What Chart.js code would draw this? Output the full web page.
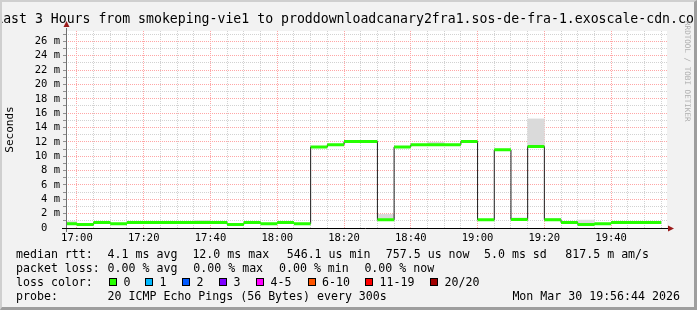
<!DOCTYPE html>
<html>
<head>
<meta charset="utf-8">
<script src="https://cdn.jsdelivr.net/npm/chart.js@4"></script>
<style>
  html, body { margin: 0; padding: 0; }
  body {
    width: 697px; height: 310px; position: relative; overflow: hidden;
    background: #f2f2f2; color: #000;
    font-family: "DejaVu Sans Mono", monospace;
  }
  #chart { position: absolute; left: 0; top: 0; }
  #frame {
    position: absolute; left: 0; top: 0; width: 697px; height: 310px; box-sizing: border-box;
    border-top: 2px solid #cfcfcf; border-left: 2px solid #cfcfcf;
    border-right: 3px solid #9e9e9e; border-bottom: 3px solid #9e9e9e;
    pointer-events: none;
  }
  #title {
    position: absolute; left: -150px; width: 997px; top: 11px;
    text-align: center; white-space: nowrap; font-size: 13.2px; line-height: 16px;
  }
  #mark {
    position: absolute; left: 692px; top: 21px; transform: rotate(90deg); transform-origin: 0 0;
    font-size: 7.6px; line-height: 10px; color: #adadad; white-space: nowrap;
  }
  .lg { position: absolute; font-size: 11.6px; line-height: 14px; white-space: pre; }
  .box { position: absolute; width: 6px; height: 6px; border: 1px solid #000; }
</style>
</head>
<body>
<canvas id="chart" width="697" height="310"></canvas>
<div id="title">Last 3 Hours from smokeping-vie1 to proddownloadcanary2fra1.sos-de-fra-1.exoscale-cdn.com</div>
<div id="mark">RRDTOOL / TOBI OETIKER</div>
<div id="legend"></div>
<div id="frame"></div>
<script>
// === smokeping: last 3 hours ===

// 5-minute bins (start time of each step)
const binTimes = [
  '16:55', '17:00', '17:05', '17:10', '17:15', '17:20', '17:25', '17:30', '17:35', '17:40',
  '17:45', '17:50', '17:55', '18:00', '18:05', '18:10', '18:15', '18:20', '18:25', '18:30',
  '18:35', '18:40', '18:45', '18:50', '18:55', '19:00', '19:05', '19:10', '19:15', '19:20',
  '19:25', '19:30', '19:35', '19:40', '19:45', '19:50',
];
// median rtt in ms
const medianMs = [
  0.6, 0.5, 0.75, 0.6, 0.75, 0.75, 0.75, 0.75, 0.75, 0.75,
  0.5, 0.75, 0.6, 0.75, 0.6, 11.3, 11.6, 12.05, 12.05, 1.15,
  11.3, 11.6, 11.6, 11.6, 12.05, 1.15, 10.9, 1.2, 11.35, 1.15,
  0.75, 0.5, 0.6, 0.75, 0.75, 0.75,
];
// smoke (ping spread) where it shows above the median line
const smokeTimes = ['16:55', '17:35', '18:30', '18:45', '19:10', '19:15', '19:20', '19:30'];
const smokeLow   = [0.55, 0.7, 1.1, 11.55, 1.15, 11.3, 1.1, 0.45];
const smokeHigh  = [0.9, 1.07, 1.9, 11.95, 1.4, 15.2, 1.35, 1.1];

const xLabels = ['17:00', '17:20', '17:40', '18:00', '18:20', '18:40', '19:00', '19:20', '19:40'];
const yLabelsMs = [0, 2, 4, 6, 8, 10, 12, 14, 16, 18, 20, 22, 24, 26];

const rangeStart = '16:56:44';
const rangeEnd = '19:56:44';
const stepMin = 5;

const lossLabels = ['0', '1', '2', '3', '4-5', '6-10', '11-19', '20/20'];
const lossColors = ['#26ff00', '#00b8ff', '#0059ff', '#7e00ff', '#ff00ff', '#ff5500', '#ff0000', '#a10000'];

function toMin(s) {
  const p = s.split(':').map(Number);
  return p[0] * 60 + p[1] + (p[2] || 0) / 60;
}
function fmt(m) {
  const h = Math.floor(m / 60), mm = Math.round(m % 60);
  return h + ':' + String(mm).padStart(2, '0');
}

const X_MIN = toMin(rangeStart);
const X_MAX = toMin(rangeEnd);
const Y_MAX = 27.45;

// thin dark step line through all medians
const stepLine = binTimes.map((t, i) => ({ x: toMin(t), y: medianMs[i] }));
stepLine.push({ x: toMin(binTimes[binTimes.length - 1]) + stepMin, y: medianMs[medianMs.length - 1] });

// thick green horizontal pieces (loss 0)
const greenLine = [];
binTimes.forEach((t, i) => {
  const a = toMin(t);
  greenLine.push({ x: a, y: medianMs[i] }, { x: a + stepMin, y: medianMs[i] }, { x: a + stepMin, y: null });
});

const smokeBars = smokeTimes.map((t, i) => ({ x: toMin(t) + stepMin / 2, y: [smokeLow[i], smokeHigh[i]] }));

const axisFont = { family: 'DejaVu Sans Mono', size: 10.5 };
const MAJOR = '#ffa6a6', MINOR = '#d2d2d2';

const frameAxes = {
  id: 'frameAxes',
  beforeDraw(chart) {
    const { ctx, chartArea: a } = chart;
    ctx.save();
    ctx.fillStyle = '#ffffff';
    ctx.fillRect(a.left, a.top, a.right - a.left, a.bottom - a.top);
    ctx.restore();
  },
  afterDraw(chart) {
    const { ctx, chartArea: a } = chart;
    ctx.save();
    // y axis
    ctx.strokeStyle = '#707070';
    ctx.lineWidth = 1;
    ctx.beginPath();
    ctx.moveTo(a.left + 0.5, a.bottom + 4);
    ctx.lineTo(a.left + 0.5, a.top - 3);
    ctx.stroke();
    // x axis
    ctx.strokeStyle = '#000';
    ctx.beginPath();
    ctx.moveTo(a.left - 4, a.bottom + 0.5);
    ctx.lineTo(a.right + 2, a.bottom + 0.5);
    ctx.stroke();
    // arrows
    ctx.fillStyle = '#9b1b1b';
    ctx.beginPath();
    ctx.moveTo(a.right + 7, a.bottom + 0.5);
    ctx.lineTo(a.right + 1, a.bottom - 2.5);
    ctx.lineTo(a.right + 1, a.bottom + 3.5);
    ctx.closePath();
    ctx.fill();
    ctx.beginPath();
    ctx.moveTo(a.left + 0.5, a.top - 10);
    ctx.lineTo(a.left - 2.5, a.top - 4);
    ctx.lineTo(a.left + 3.5, a.top - 4);
    ctx.closePath();
    ctx.fill();
    ctx.restore();
  },
};

new Chart(document.getElementById('chart'), {
  type: 'line',
  data: {
    datasets: [
      {
        type: 'bar',
        data: smokeBars,
        backgroundColor: '#dadada',
        borderWidth: 0,
        barPercentage: 1,
        categoryPercentage: 1,
        order: 3,
      },
      {
        data: stepLine,
        stepped: true,
        borderColor: '#1e1e1e',
        borderWidth: 1,
        pointRadius: 0,
        order: 2,
      },
      {
        data: greenLine,
        borderColor: '#26ff00',
        borderWidth: 3,
        borderCapStyle: 'butt',
        pointRadius: 0,
        spanGaps: false,
        order: 1,
      },
    ],
  },
  options: {
    responsive: false,
    animation: false,
    devicePixelRatio: 1,
    layout: { padding: { left: 0, top: 31, right: 30, bottom: 62 } },
    plugins: { legend: { display: false }, tooltip: { enabled: false } },
    scales: {
      x: {
        type: 'linear', min: X_MIN, max: X_MAX, offset: false,
        afterFit(s) { s.height = 20; },
        afterBuildTicks(s) {
          const ticks = [];
          for (let m = Math.ceil(X_MIN / stepMin) * stepMin; m <= X_MAX; m += stepMin) ticks.push({ value: m });
          s.ticks = ticks;
        },
        grid: {
          offset: false,
          drawTicks: false,
          color: c => (c.tick && xLabels.includes(fmt(c.tick.value)) ? MAJOR : MINOR),
        },
        border: { display: false, dash: [1, 1] },
        ticks: {
          autoSkip: false, maxRotation: 0, padding: 4, color: '#000', font: axisFont,
          callback: v => (xLabels.includes(fmt(v)) ? fmt(v) : ''),
        },
      },
      y: {
        min: 0, max: Y_MAX,
        afterFit(s) { s.width = 66; },
        afterBuildTicks(s) {
          const ticks = [];
          for (let v = 0; v <= 27; v++) ticks.push({ value: v });
          s.ticks = ticks;
        },
        grid: {
          tickLength: 3,
          tickColor: '#909090',
          color: c => (c.tick && yLabelsMs.includes(c.tick.value) ? MAJOR : MINOR),
        },
        border: { display: false, dash: [1, 1] },
        title: {
          display: true, text: 'Seconds', color: '#000',
          font: { family: 'DejaVu Sans Mono', size: 11 },
        },
        ticks: {
          autoSkip: false, padding: 3, color: '#000', font: axisFont,
          callback: v => (v === 0 ? '0  ' : yLabelsMs.includes(v) ? v + ' m' : ''),
        },
      },
    },
  },
  plugins: [frameAxes],
});

// legend lines under the graph
const legendRows = [
  { y: 254, items: [[16, 'median rtt:'], [107.6, '4.1 ms avg'], [192.4, '12.0 ms max'], [286.7, '546.1 us min'],
    [385.8, '757.5 us now'], [484, '5.0 ms sd'], [565.3, '817.5 m am/s']] },
  { y: 268, items: [[16, 'packet loss:'], [107.6, '0.00 % avg'], [193.3, '0.00 % max'], [279, '0.00 % min'], [364.4, '0.00 % now']] },
  { y: 282, items: [[16, 'loss color:']] },
  { y: 296, items: [[16, 'probe:'], [107.6, '20 ICMP Echo Pings (56 Bytes) every 300s'], [512.4, 'Mon Mar 30 19:56:44 2026']] },
];
const lossBoxX = [109, 145, 182, 219, 256, 307.5, 365, 430];

const legend = document.getElementById('legend');
legendRows.forEach(r => {
  r.items.forEach(([x, t]) => {
    const d = document.createElement('div');
    d.className = 'lg';
    d.style.left = x + 'px';
    d.style.top = (r.y - 7) + 'px';
    d.textContent = t;
    legend.appendChild(d);
  });
});
lossLabels.forEach((l, i) => {
  const b = document.createElement('div');
  b.className = 'box';
  b.style.left = lossBoxX[i] + 'px';
  b.style.top = (282 - 4) + 'px';
  b.style.background = lossColors[i];
  legend.appendChild(b);
  const d = document.createElement('div');
  d.className = 'lg';
  d.style.left = (lossBoxX[i] + 14.5) + 'px';
  d.style.top = (282 - 7) + 'px';
  d.textContent = l;
  legend.appendChild(d);
});
</script>
</body>
</html>
